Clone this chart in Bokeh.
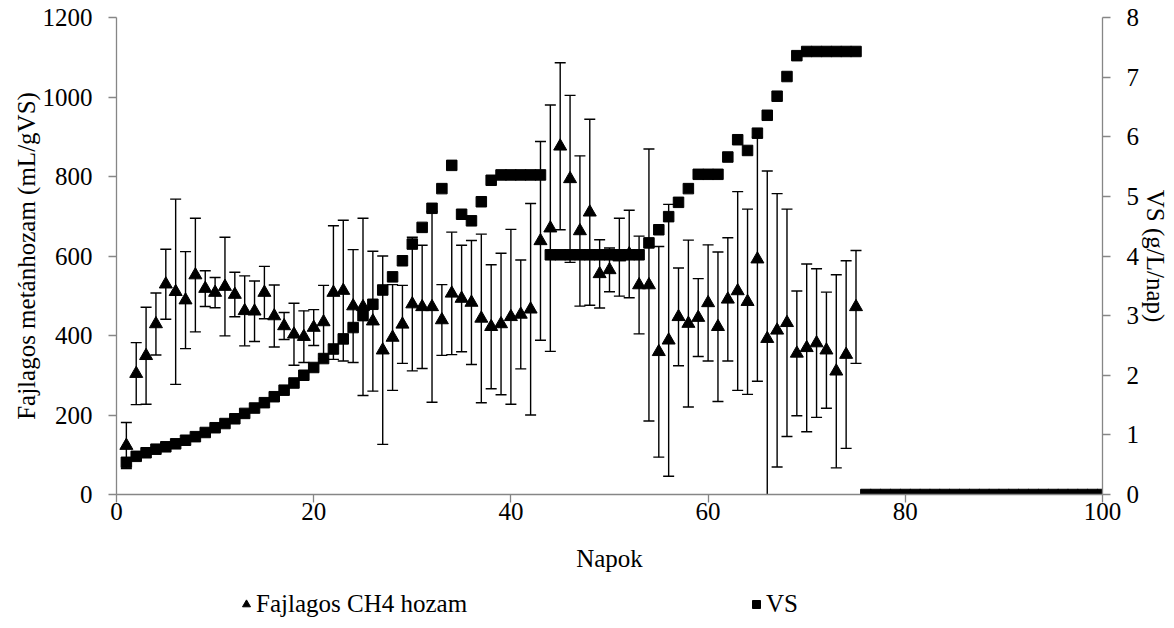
from bokeh.plotting import figure
from bokeh.layouts import column
from bokeh.models import Range1d, LinearAxis, FixedTicker, Legend, LegendItem
from bokeh.embed import file_html
from bokeh.resources import INLINE

# ---- data -------------------------------------------------------------
ch4_days = list(range(1, 76))
ch4_yield = [123, 304, 349, 429, 529, 510, 489, 552, 518, 508,
             523, 503, 462, 461, 508, 449, 424, 403, 397, 420,
             434, 508, 513, 474, 472, 436, 363, 395, 428, 479,
             472, 472, 439, 506, 493, 483, 443, 422, 429, 447,
             453, 466, 638, 670, 876, 794, 663, 710, 555, 565,
             597, 605, 527, 527, 359, 388, 447, 430, 445, 482,
             422, 491, 512, 485, 592, 392, 413, 432, 355, 369,
             381, 363, 310, 352, 472]
ch4_err = [58, 78, 122, 78, 88, 233, 122, 143, 45, 38,
           124, 56, 88, 76, 66, 78, 34, 78, 65, 45,
           92, 168, 177, 142, 223, 176, 237, 133, 98, 168,
           155, 240, 89, 154, 134, 156, 212, 156, 178, 220,
           137, 266, 250, 310, 210, 210, 189, 234, 86, 55,
           98, 110, 123, 342, 265, 342, 123, 210, 98, 146,
           188, 155, 250, 233, 307, 422, 344, 286, 157, 211,
           187, 146, 243, 236, 142]

vs_days = list(range(1, 101))
vs_load = [0.54, 0.64, 0.70, 0.76, 0.80, 0.85, 0.91, 0.97, 1.04, 1.12,
           1.19, 1.27, 1.36, 1.45, 1.54, 1.64, 1.75, 1.87, 2.00, 2.13,
           2.28, 2.44, 2.61, 2.80, 3.00, 3.19, 3.43, 3.65, 3.92, 4.20,
           4.48, 4.80, 5.13, 5.52, 4.70, 4.59, 4.91, 5.27, 5.36, 5.36,
           5.36, 5.36, 5.36, 4.02, 4.02, 4.02, 4.02, 4.02, 4.02, 4.02,
           4.02, 4.02, 4.02, 4.22, 4.44, 4.66, 4.90, 5.13, 5.37, 5.37,
           5.37, 5.66, 5.95, 5.77, 6.06, 6.36, 6.68, 7.01, 7.36, 7.43,
           7.43, 7.43, 7.43, 7.43, 7.43, 0.0, 0.0, 0.0, 0.0, 0.0,
           0.0, 0.0, 0.0, 0.0, 0.0, 0.0, 0.0, 0.0, 0.0, 0.0,
           0.0, 0.0, 0.0, 0.0, 0.0, 0.0, 0.0, 0.0, 0.0, 0.0]

x_ticks = [0, 20, 40, 60, 80, 100]
left_ticks = [0, 200, 400, 600, 800, 1000, 1200]
right_ticks = [0, 1, 2, 3, 4, 5, 6, 7, 8]

FONT = "'Liberation Serif', 'Times New Roman', serif"
FS = "25px"
AXIS_GREY = "#868686"

# ---- main figure ------------------------------------------------------
p = figure(width=1174, height=580,
           x_range=Range1d(0, 100), y_range=Range1d(0, 1200),
           output_backend="svg", toolbar_location=None,
           min_border_left=116, min_border_right=72,
           min_border_top=17, min_border_bottom=86)
p.extra_y_ranges = {"vs": Range1d(0, 8)}
p.xgrid.visible = False
p.ygrid.visible = False
p.outline_line_color = None
p.background_fill_color = "white"
p.border_fill_color = "white"

right_axis = LinearAxis(y_range_name="vs")
p.add_layout(right_axis, "right")

def style(ax, ticks, label, standoff, label_standoff):
    ax.ticker = FixedTicker(ticks=ticks)
    ax.axis_label = label
    ax.axis_label_text_font = FONT
    ax.axis_label_text_font_size = FS
    ax.axis_label_text_font_style = "normal"
    ax.axis_label_text_color = "black"
    ax.axis_label_standoff = label_standoff
    ax.major_label_text_font = FONT
    ax.major_label_text_font_size = FS
    ax.major_label_text_color = "black"
    ax.major_label_standoff = standoff
    ax.axis_line_color = AXIS_GREY
    ax.axis_line_width = 1.3
    ax.major_tick_line_color = AXIS_GREY
    ax.major_tick_line_width = 1.3
    ax.major_tick_out = 8
    ax.major_tick_in = 0
    ax.minor_tick_line_color = None

style(p.xaxis[0], x_ticks, "Napok", 0, 22)
style(p.yaxis[0], left_ticks, "Fajlagos metánhozam (mL/gVS)", 16, 0)
style(right_axis, right_ticks, "VS (g/L/nap)", 16, 0)

# ---- error bars -------------------------------------------------------
lower = [v - e for v, e in zip(ch4_yield, ch4_err)]
upper = [v + e for v, e in zip(ch4_yield, ch4_err)]
p.segment(x0=ch4_days, y0=lower, x1=ch4_days, y1=upper,
          line_color="black", line_width=1.4)
p.scatter(x=ch4_days + ch4_days, y=lower + upper, marker="dash",
          size=11, line_color="black", line_width=1.4)

# ---- series -----------------------------------------------------------
p.scatter(x=ch4_days, y=ch4_yield, marker="triangle", size=13,
          fill_color="black", line_color="black")
p.scatter(x=vs_days, y=vs_load, marker="square", size=10.5,
          fill_color="black", line_color="black", y_range_name="vs")

# ---- legend strip (its glyphs fall outside this strip's ranges) -------
lg = figure(width=1174, height=48, x_range=Range1d(-2, -1), y_range=Range1d(-2, -1),
            output_backend="svg", toolbar_location=None,
            min_border_left=0, min_border_right=0,
            min_border_top=0, min_border_bottom=0)
lg.axis.visible = False
lg.xgrid.visible = False
lg.ygrid.visible = False
lg.outline_line_color = None
lg_tri = lg.scatter(x=ch4_days, y=ch4_yield, marker="triangle", size=13,
                    fill_color="black", line_color="black")
lg_sq = lg.scatter(x=vs_days, y=vs_load, marker="square", size=10.5,
                   fill_color="black", line_color="black")

legend = Legend(items=[LegendItem(label="Fajlagos CH4 hozam", renderers=[lg_tri]),
                       LegendItem(label="VS", renderers=[lg_sq])],
                orientation="horizontal", location=(120, 10),
                glyph_width=20, glyph_height=20, label_standoff=0,
                label_width=214, spacing=276, padding=0, margin=0,
                border_line_color=None, background_fill_alpha=0,
                label_text_font=FONT, label_text_font_size=FS,
                label_text_color="black")
lg.add_layout(legend)

open("out.html", "w").write(file_html(column(p, lg), INLINE))
